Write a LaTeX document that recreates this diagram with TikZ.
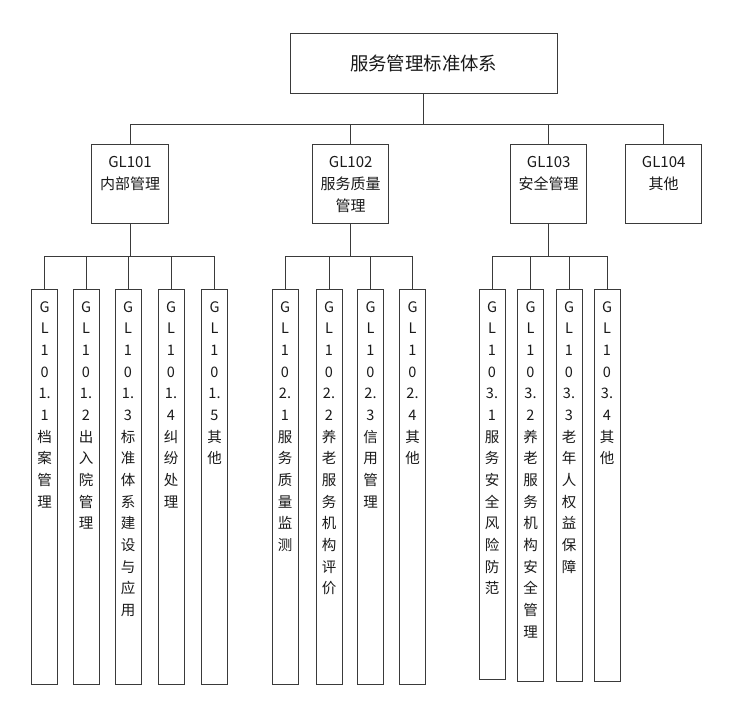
\documentclass[tikz,border=0pt]{standalone}
\usepackage{fontspec}
\newfontfamily\cjk{Noto Sans CJK SC}
\usetikzlibrary{calc}
\definecolor{linec}{HTML}{3A3A3A}
\definecolor{textc}{HTML}{1A1A1A}
\tikzset{
  box/.style={draw=linec, line width=1pt, rectangle, inner sep=0pt, text=textc},
  topbox/.style={box, minimum width=267pt, minimum height=60pt, font={\cjk\fontsize{18.4}{22}\selectfont}},
  midbox/.style={box, minimum width=76.5pt, minimum height=78.5pt},
  midtext/.style={inner sep=0pt, anchor=north, align=center, text=textc, font={\cjk\fontsize{15}{22}\selectfont}},
  leafbox/.style={box, minimum width=26pt},
  leaftext/.style={inner sep=0pt, anchor=north, align=center, text=textc, font={\cjk\fontsize{14.5}{21.67}\selectfont}},
  conn/.style={draw=linec, line width=1pt},
}
\begin{document}
\begin{tikzpicture}[x=1pt,y=-1pt]
\useasboundingbox (0,0) rectangle (729,720);
\fill[white] (0,0) rectangle (729,720);

% top
\node[topbox] (top) at (423.7,63.2) {服务管理标准体系};

% level 2
\node[midbox] (g1) at (130,184) {};
\node[midbox] (g2) at (350.7,184) {};
\node[midbox] (g3) at (548.7,184) {};
\node[midbox] (g4) at (663.7,184) {};
\node[midtext] (g1t) at ($(g1.north)+(0,12)$) {GL101\\内部管理};
\node[midtext] (g2t) at ($(g2.north)+(0,12)$) {GL102\\服务质量\\管理};
\node[midtext] (g3t) at ($(g3.north)+(0,12)$) {GL103\\安全管理};
\node[midtext] (g4t) at ($(g4.north)+(0,12)$) {GL104\\其他};

% level 3 group 1
\node[leafbox, minimum height=395pt] (a1) at (44.7,486.5) {};
\node[leafbox, minimum height=395pt] (a2) at (86,486.5) {};
\node[leafbox, minimum height=395pt] (a3) at (128,486.5) {};
\node[leafbox, minimum height=395pt] (a4) at (171,486.5) {};
\node[leafbox, minimum height=395pt] (a5) at (214.5,486.5) {};
% group 2
\node[leafbox, minimum height=395pt] (b1) at (285,486.5) {};
\node[leafbox, minimum height=395pt] (b2) at (329,486.5) {};
\node[leafbox, minimum height=395pt] (b3) at (370.5,486.5) {};
\node[leafbox, minimum height=395pt] (b4) at (412.5,486.5) {};
% group 3
\node[leafbox, minimum height=390pt] (c1) at (492,484) {};
\node[leafbox, minimum height=392pt] (c2) at (530.5,485) {};
\node[leafbox, minimum height=392pt] (c3) at (569,485) {};
\node[leafbox, minimum height=392pt] (c4) at (607,485) {};

\newcommand{\ltxt}[2]{\node[leaftext] (#1t) at ($(#1.north)+(0,12.5)$) {#2};}
\ltxt{a1}{G\\L\\1\\0\\1.\\1\\档\\案\\管\\理}
\ltxt{a2}{G\\L\\1\\0\\1.\\2\\出\\入\\院\\管\\理}
\ltxt{a3}{G\\L\\1\\0\\1.\\3\\标\\准\\体\\系\\建\\设\\与\\应\\用}
\ltxt{a4}{G\\L\\1\\0\\1.\\4\\纠\\纷\\处\\理}
\ltxt{a5}{G\\L\\1\\0\\1.\\5\\其\\他}
\ltxt{b1}{G\\L\\1\\0\\2.\\1\\服\\务\\质\\量\\监\\测}
\ltxt{b2}{G\\L\\1\\0\\2.\\2\\养\\老\\服\\务\\机\\构\\评\\价}
\ltxt{b3}{G\\L\\1\\0\\2.\\3\\信\\用\\管\\理}
\ltxt{b4}{G\\L\\1\\0\\2.\\4\\其\\他}
\ltxt{c1}{G\\L\\1\\0\\3.\\1\\服\\务\\安\\全\\风\\险\\防\\范}
\ltxt{c2}{G\\L\\1\\0\\3.\\2\\养\\老\\服\\务\\机\\构\\安\\全\\管\\理}
\ltxt{c3}{G\\L\\1\\0\\3.\\3\\老\\年\\人\\权\\益\\保\\障}
\ltxt{c4}{G\\L\\1\\0\\3.\\4\\其\\他}

% connectors top -> level 2
\coordinate (bus0) at ($(top.south)+(0,31)$);
\draw[conn] (top.south) -- (bus0);
\draw[conn] (g1.north) |- (bus0) -| (g4.north);
\draw[conn] (g2.north) -- (g2.north |- bus0);
\draw[conn] (g3.north) -- (g3.north |- bus0);

% level 2 -> level 3
\coordinate (bus1) at ($(g1.south)+(0,32.5)$);
\draw[conn] (g1.south) -- (bus1);
\draw[conn] (a1.north) |- (bus1) -| (a5.north);
\draw[conn] (a2.north) -- (a2.north |- bus1);
\draw[conn] (a3.north) -- (a3.north |- bus1);
\draw[conn] (a4.north) -- (a4.north |- bus1);

\coordinate (bus2) at ($(g2.south)+(0,32.5)$);
\draw[conn] (g2.south) -- (bus2);
\draw[conn] (b1.north) |- (bus2) -| (b4.north);
\draw[conn] (b2.north) -- (b2.north |- bus2);
\draw[conn] (b3.north) -- (b3.north |- bus2);

\coordinate (bus3) at ($(g3.south)+(0,32.5)$);
\draw[conn] (g3.south) -- (bus3);
\draw[conn] (c1.north) |- (bus3) -| (c4.north);
\draw[conn] (c2.north) -- (c2.north |- bus3);
\draw[conn] (c3.north) -- (c3.north |- bus3);
\end{tikzpicture}
\end{document}
